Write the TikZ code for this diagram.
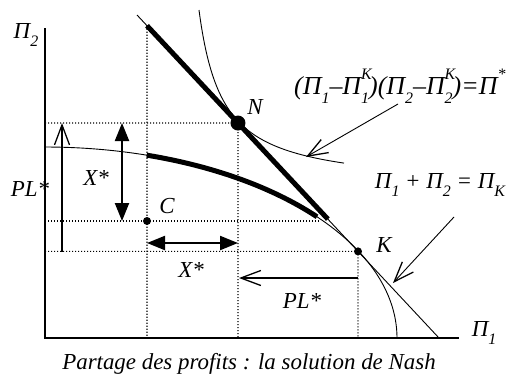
\documentclass[tikz,border=0pt]{standalone}
\usepackage{fontspec}
\setmainfont{Liberation Serif}
\usetikzlibrary{arrows.meta,calc}
\newcommand\lbl[1]{\raisebox{-0.32em}{\fontsize{16}{16}\selectfont #1}}
\newcommand\lblsup[1]{\raisebox{0.6em}{\fontsize{16}{16}\selectfont #1}}
\newcommand\lblss[2]{\rlap{\lblsup{#2}}\lbl{#1}}
\tikzset{
  txt/.style={font=\fontsize{23}{27}\selectfont\itshape, inner sep=0pt},
  bigtxt/.style={font=\fontsize{26}{30}\selectfont\itshape, inner sep=0pt},
  axis/.style={line width=1.4bp, black},
  thin/.style={line width=0.9bp},
  heavy/.style={line width=5bp},
  dots/.style={line width=1.1bp, dash pattern=on 1.1bp off 1.9bp},
  barb/.style={line width=1.3bp, -{Straight Barb[length=20bp,width=15bp,line width=1.3bp]}},
  dbl/.style={line width=2.2bp, {Triangle[length=18bp,width=14bp]}-{Triangle[length=18bp,width=14bp]}},
}
\begin{document}
\begin{tikzpicture}[x=1bp,y=-1bp]
\useasboundingbox (0,0) rectangle (512,382);
% axes
\coordinate (O) at (45,338);
\coordinate (Ytop) at (45,28);
\coordinate (Xend) at (459,338);
\draw[axis] (Ytop) -- (O) -- (Xend);
\node[txt] (p2) at (26,35) {Π\lbl{2}};
\node[txt] (p1) at (484,333) {Π\lbl{1}};
% budget line
\coordinate (A) at (137,15);
\coordinate (B) at (439,338);
\draw[thin] (A) -- (B);
\draw[heavy] ($(A)!0.0331!(B)$) coordinate (T1) -- ($(A)!0.632!(B)$) coordinate (T2);
\coordinate (N) at ($(A)!0.3344!(B)$);
\coordinate (K) at ($(A)!0.7318!(B)$);
% frontier (ellipse quadrant)
\draw[thin] plot[domain=0:90,samples=120] ({45+352*cos(\x)},{338-191*sin(\x)});
\draw[heavy] plot[domain=39.4:73.2,samples=80] ({45+352*cos(\x)},{338-191*sin(\x)});
% Nash hyperbola
\draw[thin] plot[domain=199:344,samples=200] (\x,{187.9-4180/(\x-175.5)});
% dotted guides
\coordinate (C) at (147,221);
\draw[dots] (T1) -- (147,338);
\draw[dots] (45,123) -- (N);
\draw[dots] (N) -- (238,338);
\draw[dots] (45,221) -- (320,221);
\draw[dots] (45,251.4) -- (K);
\draw[dots] (K) -- (358,338);
% points
\fill (N) circle (7.5bp);
\fill (C) circle (4bp);
\fill (K) circle (4bp);
\node[txt] (lN) at (255,107) {N};
\node[txt] (lC) at (167,206) {C};
\node[txt] (lK) at (384,245) {K};
% arrows
\coordinate (plb) at (62,252);
\coordinate (plt) at (62,123);
\draw[barb] (plb) -- (plt);
\node[txt] (lPL1) at (30,189) {PL*};
\coordinate (xa) at (122,123);
\coordinate (xb) at (122,221);
\draw[dbl] (xa) -- (xb);
\node[txt] (lX1) at (96,178) {X*};
\coordinate (xc) at (147,243);
\coordinate (xd) at (238,243);
\draw[dbl] (xc) -- (xd);
\node[txt] (lX2) at (191,270) {X*};
\coordinate (pa) at (358,278);
\coordinate (pb) at (239,278);
\draw[barb] (pa) -- (pb);
\node[txt] (lPL2) at (302,301) {PL*};
% annotations
\node[bigtxt, anchor=west] (f1) at (294,86) {(Π\lbl{1}–Π\lblss{1}{K})(Π\lbl{2}–Π\lblss{2}{K})=Π\lblsup{*}};
\coordinate (h1) at (398,104);
\coordinate (h2) at (306,157);
\draw[barb, line width=0.9bp] (h1) -- (h2);
\node[txt] (f2) at (440,185) {Π\lbl{1} + Π\lbl{2} = Π\lbl{K}};
\coordinate (l1) at (454,217);
\coordinate (l2) at (393,283);
\draw[barb, line width=0.9bp] (l1) -- (l2);
\node[txt] (cap) at (249,364) {Partage des profits : la solution de Nash};
\end{tikzpicture}
\end{document}
